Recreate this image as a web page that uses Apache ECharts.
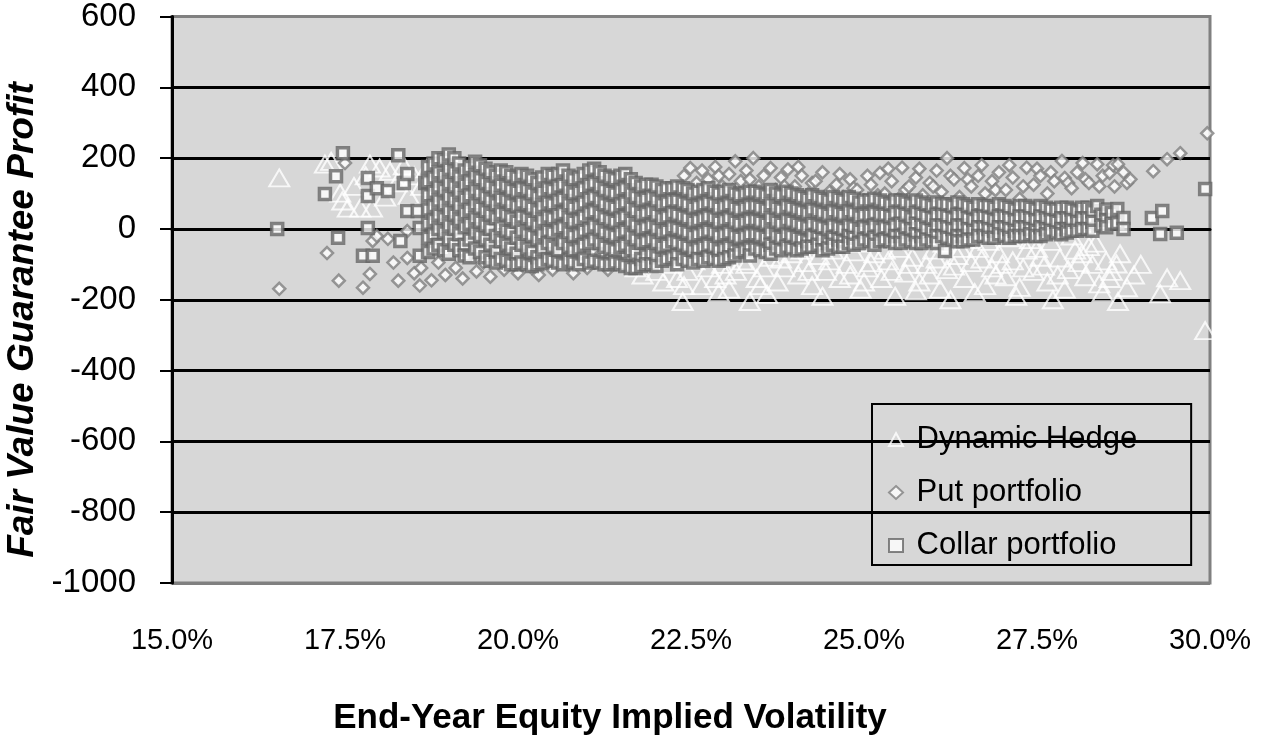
<!DOCTYPE html>
<html>
<head>
<meta charset="utf-8">
<title>Fair Value Guarantee Profit</title>
<script src="https://cdn.jsdelivr.net/npm/echarts@6/dist/echarts.min.js"></script>
<style>
  html, body { margin: 0; padding: 0; background: #fff; }
  #chart { width: 1268px; height: 739px; }
</style>
</head>
<body>
<div id="chart"></div>
<script>
/* ----------------------------  data  ---------------------------- */
// x = end-year equity implied volatility (%), y = fair value guarantee profit
const seriesNames = ['Dynamic Hedge', 'Put portfolio', 'Collar portfolio'];
const xRange = [15, 30, 2.5];
const yRange = [-1000, 600, 200];

const hedgePoints = [
  [16.55, 144], [17.21, 183], [17.3, 191], [17.43, 101], [17.46, 79], [17.54, 59], [17.63, 120], [17.72, 59],
  [17.8, 150], [17.86, 183], [17.89, 59], [18.0, 172], [18.08, 90], [18.15, 163], [18.25, 130], [18.35, 178],
  [18.42, 95], [18.5, 150], [18.6, 120], [18.68, 170], [18.75, 80], [18.85, 135], [18.95, 100], [19.05, 60],
  [19.15, 120], [19.25, 40], [19.35, 85], [19.45, 20], [19.55, 60], [19.65, -10], [19.75, 30], [19.85, -30],
  [19.95, 10], [20.1, -20], [20.25, 20], [20.4, -40], [20.55, -10], [20.7, -50], [20.85, -20], [21.0, -60],
  [21.15, -30], [21.3, -70], [21.45, -90], [21.6, -50], [21.7, -110], [21.8, -130], [21.9, -80], [22.0, -120],
  [22.1, -150], [22.2, -100], [22.3, -140], [22.38, -205], [22.4, -160], [22.45, -120], [22.5, -60], [22.55, -90],
  [22.65, -160], [22.75, -110], [22.8, -75], [22.85, -140], [22.9, -180], [22.95, -100], [23.0, -130], [23.05, -170],
  [23.1, -60], [23.15, -120], [23.25, -90], [23.3, -100], [23.35, -205], [23.4, -55], [23.45, -140], [23.5, -160],
  [23.55, -110], [23.6, -185], [23.65, -80], [23.7, -45], [23.75, -150], [23.8, -85], [23.85, -110], [23.95, -70],
  [24.0, -50], [24.05, -130], [24.1, -60], [24.15, -95], [24.2, -120], [24.25, -160], [24.3, -40], [24.35, -75],
  [24.4, -190], [24.45, -120], [24.5, -90], [24.55, -60], [24.6, -35], [24.65, -140], [24.75, -100], [24.8, -130],
  [24.85, -65], [24.9, -40], [24.95, -170], [25.0, -150], [25.05, -110], [25.1, -95], [25.15, -70], [25.2, -30],
  [25.25, -140], [25.3, -60], [25.35, -90], [25.4, -120], [25.45, -190], [25.5, -55], [25.55, -35], [25.6, -125],
  [25.65, -100], [25.7, -80], [25.75, -175], [25.8, -150], [25.85, -30], [25.9, -100], [25.95, -130], [26.0, -60],
  [26.05, -85], [26.1, -170], [26.15, -40], [26.2, -115], [26.25, -200], [26.3, -105], [26.35, -75], [26.4, -55],
  [26.45, -140], [26.5, -30], [26.55, -95], [26.6, -180], [26.65, -55], [26.7, -85], [26.75, -160], [26.8, -35],
  [26.85, -110], [26.9, -130], [26.95, -70], [27.0, -100], [27.05, -135], [27.1, -25], [27.15, -90], [27.2, -190],
  [27.25, -165], [27.3, -110], [27.35, -60], [27.4, -30], [27.45, -120], [27.5, -55], [27.55, -80], [27.6, -105],
  [27.65, -150], [27.7, -35], [27.73, -200], [27.8, -130], [27.83, -82], [27.9, -170], [27.95, -115], [28.0, -20],
  [28.05, -60], [28.1, -95], [28.15, -70], [28.2, -135], [28.25, -50], [28.3, -100], [28.35, -40], [28.4, -155],
  [28.45, -180], [28.5, -90], [28.55, -140], [28.58, -120], [28.65, -99], [28.67, -205], [28.7, -70], [28.8, -166],
  [28.9, -130], [29.0, -100], [29.28, -183], [29.38, -138], [29.57, -146], [29.93, -287]
];

const putPoints = [
  [16.55, -169], [17.24, -68], [17.41, -146], [17.5, 186], [17.76, -166], [17.86, -127], [17.9, -34], [17.96, -20],
  [18.12, -28], [18.2, -95], [18.27, -146], [18.4, -82], [18.4, -6], [18.5, -125], [18.58, -160], [18.6, -110],
  [18.7, -60], [18.75, -145], [18.85, -95], [18.95, -130], [19.0, -40], [19.1, -110], [19.2, -140], [19.3, -75],
  [19.4, -120], [19.5, -95], [19.6, -135], [19.7, -60], [19.8, -115], [19.9, -90], [20.0, -125], [20.1, -70],
  [20.2, -110], [20.3, -130], [20.4, -85], [20.5, -115], [20.6, -60], [20.7, -100], [20.8, -125], [20.9, -80],
  [21.0, -110], [21.1, -95], [21.2, -70], [21.3, -115], [21.4, -85], [21.5, -100], [21.6, -60], [21.7, -90],
  [21.85, -70], [22.0, -95], [19.2, 30], [19.6, 60], [20.0, 10], [20.4, 40], [20.8, 70], [21.2, 30],
  [21.6, 80], [22.0, 50], [22.2, 110], [22.3, 95], [22.4, 150], [22.49, 172], [22.55, 95], [22.58, 130],
  [22.66, 165], [22.75, 140], [22.85, 175], [22.9, 150], [22.95, 120], [23.05, 155], [23.1, 110], [23.14, 191],
  [23.22, 135], [23.3, 165], [23.35, 140], [23.4, 200], [23.48, 120], [23.55, 150], [23.6, 90], [23.65, 172],
  [23.72, 110], [23.8, 145], [23.85, 120], [23.9, 168], [24.0, 120], [24.05, 175], [24.1, 150], [24.2, 100],
  [24.25, 130], [24.3, 135], [24.4, 160], [24.45, 85], [24.5, 105], [24.6, 125], [24.65, 155], [24.7, 90],
  [24.8, 140], [24.85, 115], [24.9, 110], [25.0, 80], [25.05, 150], [25.1, 125], [25.2, 95], [25.23, 158],
  [25.3, 100], [25.35, 170], [25.4, 135], [25.5, 85], [25.55, 173], [25.6, 110], [25.65, 120], [25.75, 145],
  [25.8, 170], [25.85, 95], [25.95, 130], [26.0, 120], [26.05, 165], [26.12, 105], [26.2, 200], [26.25, 150],
  [26.3, 140], [26.38, 90], [26.45, 172], [26.5, 140], [26.55, 120], [26.65, 150], [26.7, 180], [26.75, 100],
  [26.85, 135], [26.9, 110], [26.95, 160], [27.05, 110], [27.1, 180], [27.15, 145], [27.25, 85], [27.3, 120],
  [27.35, 173], [27.45, 125], [27.5, 170], [27.55, 150], [27.65, 100], [27.7, 160], [27.75, 135], [27.86, 192],
  [27.9, 144], [27.95, 130], [28.0, 115], [28.08, 160], [28.16, 186], [28.2, 140], [28.25, 130], [28.37, 183],
  [28.4, 120], [28.45, 150], [28.55, 158], [28.6, 180], [28.62, 120], [28.67, 183], [28.75, 160], [28.8, 130],
  [28.85, 140], [29.18, 163], [29.38, 197], [29.57, 214], [29.96, 270]
];

// collar portfolio: [x, [y values at that x]]
const collarColumns = [
  [16.52, [0]], [17.21, [99]], [17.37, [149]], [17.4, [-25]], [17.47, [214]], [17.76, [-76]],
  [17.83, [144, 93, 3]], [17.9, [-76]], [17.96, [115]], [18.12, [107]], [18.27, [208]], [18.3, [-34]],
  [18.35, [130]], [18.4, [155, 51]], [18.55, [51]], [18.58, [3, -76]], [18.66, [130]],
  [18.7, [175, 135, 95, 55, 15, -25, -65]],
  [18.78, [185, 145, 105, 65, 25, -15, -55]],
  [18.85, [200, 160, 120, 80, 40, 0, -45]],
  [18.93, [195, 150, 110, 70, 30, -10, -60]],
  [19.0, [210, 170, 130, 90, 50, 10, -30, -70]],
  [19.08, [200, 160, 120, 80, 40, 0, -45]],
  [19.15, [185, 145, 105, 65, 25, -15, -60]],
  [19.23, [165, 125, 85, 45, 5, -45, -75]],
  [19.3, [175, 135, 95, 55, 15, -30, -80]],
  [19.38, [190, 150, 110, 70, 30, -10, -55]],
  [19.45, [180, 140, 100, 60, 20, -20, -65]],
  [19.53, [170, 130, 90, 50, 10, -30, -80]],
  [19.6, [160, 120, 80, 40, 0, -45, -90]],
  [19.68, [150, 110, 70, 30, -20, -65, -95]],
  [19.75, [165, 125, 85, 45, 5, -35, -85]],
  [19.83, [160, 120, 80, 40, -5, -45, -90]],
  [19.9, [150, 110, 70, 30, -10, -55, -100]],
  [19.98, [145, 105, 65, 20, -25, -70, -100]],
  [20.05, [155, 115, 75, 35, -5, -45, -95]],
  [20.13, [150, 110, 70, 30, -15, -55, -100]],
  [20.2, [140, 100, 60, 20, -20, -65, -105]],
  [20.28, [130, 90, 50, 10, -30, -80, -100]],
  [20.35, [145, 105, 65, 25, -15, -55, -95]],
  [20.43, [155, 115, 75, 35, -5, -40, -85]],
  [20.5, [150, 110, 70, 30, -10, -50, -90]],
  [20.58, [155, 120, 80, 40, 0, -60, -95]],
  [20.65, [165, 125, 85, 45, 5, -40, -100]],
  [20.73, [150, 110, 70, 30, -10, -50, -90]],
  [20.8, [140, 100, 60, 20, -20, -60, -95]],
  [20.88, [145, 105, 65, 25, -15, -55, -100]],
  [20.95, [155, 115, 75, 35, -5, -45, -85]],
  [21.03, [165, 125, 85, 45, 0, -40, -95]],
  [21.1, [170, 130, 90, 50, 10, -30, -90]],
  [21.18, [160, 120, 80, 40, 0, -40, -95]],
  [21.25, [150, 110, 70, 30, -10, -50, -100]],
  [21.33, [145, 105, 65, 25, -15, -55, -100]],
  [21.4, [140, 100, 60, 20, -20, -60, -95]],
  [21.48, [150, 110, 70, 30, -10, -50, -100]],
  [21.55, [155, 115, 75, 35, -5, -45, -105]],
  [21.63, [140, 100, 60, 20, -20, -60, -110]],
  [21.7, [130, 90, 50, 10, -30, -70, -110]],
  [21.78, [120, 80, 40, 0, -40, -85, -105]],
  [21.85, [125, 85, 45, 5, -35, -75, -100]],
  [21.93, [125, 90, 50, 10, -30, -70, -100]],
  [22.0, [120, 80, 40, 0, -40, -80, -105]],
  [22.08, [110, 70, 30, -10, -50, -90]],
  [22.15, [115, 75, 35, -5, -45, -85]],
  [22.23, [115, 80, 45, 5, -35, -80]],
  [22.3, [120, 80, 40, 0, -40, -75, -100]],
  [22.38, [115, 75, 35, -5, -45, -85]],
  [22.45, [110, 70, 30, -10, -50, -90]],
  [22.53, [100, 60, 20, -20, -60, -95]],
  [22.6, [105, 65, 25, -15, -55, -85]],
  [22.68, [110, 70, 30, -10, -50, -90]],
  [22.75, [115, 75, 35, -5, -45, -80]],
  [22.83, [105, 70, 30, -10, -50, -85]],
  [22.9, [100, 60, 20, -20, -60, -90]],
  [22.98, [105, 65, 25, -15, -55, -85]],
  [23.05, [110, 70, 30, -10, -50, -80]],
  [23.13, [100, 60, 20, -20, -60, -75]],
  [23.2, [95, 55, 15, -25, -65]],
  [23.28, [100, 60, 20, -20, -60]],
  [23.35, [105, 65, 25, -15, -55, -75]],
  [23.43, [105, 65, 25, -15, -55]],
  [23.5, [100, 60, 20, -20, -60]],
  [23.58, [95, 55, 15, -25, -65]],
  [23.65, [110, 70, 30, -10, -45, -70]],
  [23.73, [100, 60, 20, -20, -55]],
  [23.8, [95, 55, 15, -25, -60]],
  [23.88, [105, 65, 25, -15, -50]],
  [23.95, [100, 60, 20, -20, -55]],
  [24.03, [95, 55, 15, -25, -60]],
  [24.1, [90, 50, 10, -30, -55]],
  [24.18, [85, 45, 5, -35, -50]],
  [24.25, [95, 55, 15, -20, -50]],
  [24.33, [90, 50, 10, -25, -45]],
  [24.4, [85, 45, 5, -30, -60]],
  [24.48, [80, 40, 0, -40, -55]],
  [24.55, [90, 50, 10, -25, -45]],
  [24.63, [85, 45, 5, -30, -50]],
  [24.7, [80, 40, 0, -35, -50]],
  [24.78, [90, 50, 10, -20, -40]],
  [24.85, [85, 45, 5, -25, -45]],
  [24.93, [75, 35, -5, -40]],
  [25.0, [80, 40, 5, -30]],
  [25.08, [80, 40, 0, -35]],
  [25.15, [85, 45, 10, -25, -45]],
  [25.23, [80, 40, 0, -35]],
  [25.3, [75, 40, 5, -30]],
  [25.38, [70, 35, 0, -35]],
  [25.45, [80, 45, 10, -20, -40]],
  [25.53, [80, 45, 15, -20, -40]],
  [25.6, [75, 40, 5, -30]],
  [25.68, [70, 30, 0, -35]],
  [25.75, [80, 45, 15, -15, -40]],
  [25.83, [75, 40, 10, -20, -40]],
  [25.9, [70, 35, 0, -30]],
  [25.98, [65, 30, -5, -35]],
  [26.05, [75, 40, 10, -20, -40]],
  [26.13, [70, 40, 10, -20]],
  [26.17, [-62]],
  [26.2, [70, 35, 5, -25]],
  [26.28, [65, 30, 0, -30]],
  [26.35, [75, 40, 10, -20, -35]],
  [26.43, [70, 40, 10, -20, -35]],
  [26.5, [65, 30, 0, -30]],
  [26.58, [60, 25, -5, -30]],
  [26.65, [70, 35, 5, -20]],
  [26.73, [65, 35, 5, -20]],
  [26.8, [65, 30, 0, -25]],
  [26.88, [60, 25, -5, -25]],
  [26.95, [70, 35, 5, -15]],
  [27.03, [65, 35, 5, -20]],
  [27.1, [60, 30, 0, -25]],
  [27.18, [55, 25, -5, -20]],
  [27.25, [65, 35, 5, -20]],
  [27.33, [65, 35, 5, -20]],
  [27.4, [60, 30, 0, -15]],
  [27.48, [55, 25, -5, -20]],
  [27.55, [65, 35, 5, -20]],
  [27.63, [60, 30, 0, -15]],
  [27.7, [55, 25, -5]],
  [27.78, [55, 20, -10]],
  [27.85, [60, 30, 0, -15]],
  [27.93, [60, 30, 0, -10]],
  [28.0, [55, 25, -5]],
  [28.08, [50, 20, -5]],
  [28.15, [60, 30, 0]],
  [28.23, [60, 30, 0]],
  [28.3, [50, 20, -5]],
  [28.37, [65]],
  [28.43, [40, 10]],
  [28.5, [55, 25, 5]],
  [28.58, [45, 15]],
  [28.66, [56, 17]],
  [28.75, [31, 0]],
  [29.16, [31]], [29.28, [-14]], [29.31, [51]], [29.52, [-11]], [29.93, [113]]
];

/* ----------------------------  build  ---------------------------- */
const collarPoints = [];
collarColumns.forEach(([x, ys]) => ys.forEach((y) => collarPoints.push([x, y])));

// gridline colours: plot-area edges stay grey, inner lines black
const splitColors = ['#808080', '#000', '#000', '#000', '#000', '#000', '#000', '#000', '#808080'];
const sans = '"Liberation Sans", Arial, sans-serif';

const chart = echarts.init(document.getElementById('chart'));

chart.setOption({
  animation: false,
  backgroundColor: '#fff',
  grid: {
    left: 172, right: 58, top: 15, bottom: 156,
    show: true,
    backgroundColor: '#d7d7d7',
    borderColor: '#808080',
    borderWidth: 3
  },
  xAxis: {
    type: 'value',
    min: xRange[0], max: xRange[1], interval: xRange[2],
    axisLine: { lineStyle: { color: '#000', width: 3 } },
    axisTick: { show: false },
    splitLine: { show: false },
    axisLabel: {
      margin: 43,
      color: '#000',
      fontSize: 29,
      fontFamily: sans,
      formatter: (v) => v.toFixed(1) + '%'
    }
  },
  yAxis: {
    type: 'value',
    min: yRange[0], max: yRange[1], interval: yRange[2],
    axisLine: { show: true, lineStyle: { color: '#000', width: 3 } },
    axisTick: { show: true, length: 12, lineStyle: { color: '#000', width: 2 } },
    splitLine: { show: true, lineStyle: { color: splitColors, width: 3 } },
    axisLabel: {
      margin: 36,
      color: '#000',
      fontSize: 33,
      fontFamily: sans,
      formatter: (v) => String(v)
    }
  },
  legend: {
    orient: 'vertical',
    left: 872,
    top: 404,
    padding: [20, 54, 4, 16],
    itemGap: 22,
    itemWidth: 14,
    itemHeight: 13,
    borderColor: '#000',
    borderWidth: 2,
    backgroundColor: 'transparent',
    formatter: (name) => ' ' + name,
    textStyle: { color: '#000', fontSize: 31, fontFamily: sans },
    data: seriesNames
  },
  graphic: [
    {
      type: 'text',
      x: 610, y: 718,
      style: {
        text: 'End-Year Equity Implied Volatility',
        align: 'center', verticalAlign: 'middle',
        fontSize: 35, fontWeight: 'bold',
        fontFamily: sans,
        fill: '#000'
      }
    },
    {
      type: 'text',
      x: 23, y: 320,
      rotation: Math.PI / 2,
      style: {
        text: 'Fair Value Guarantee Profit',
        align: 'center', verticalAlign: 'middle',
        fontSize: 37, fontWeight: 'bold', fontStyle: 'italic',
        fontFamily: sans,
        fill: '#000'
      }
    }
  ],
  series: [
    {
      name: seriesNames[0],
      type: 'scatter',
      symbol: 'triangle',
      symbolSize: [20, 17],
      itemStyle: { color: 'rgba(0,0,0,0)', borderColor: '#fff', borderWidth: 2 },
      data: hedgePoints
    },
    {
      name: seriesNames[1],
      type: 'scatter',
      symbol: 'diamond',
      symbolSize: 12,
      itemStyle: { color: '#fff', borderColor: '#808080', borderWidth: 2.5 },
      data: putPoints
    },
    {
      name: seriesNames[2],
      type: 'scatter',
      symbol: 'rect',
      symbolSize: 11,
      itemStyle: { color: '#fff', borderColor: '#666666', borderWidth: 3.5 },
      data: collarPoints
    }
  ]
});
</script>
</body>
</html>
